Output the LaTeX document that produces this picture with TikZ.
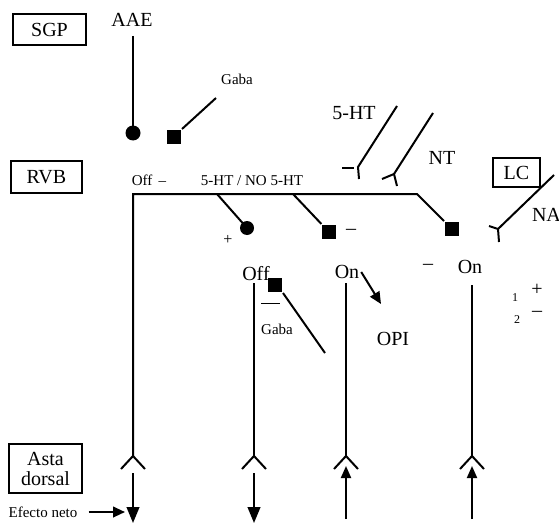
\documentclass[tikz,border=0pt]{standalone}
\usepackage{fontspec}
\setmainfont{Liberation Serif}
\usetikzlibrary{arrows.meta}
\newcommand{\bigfont}{\fontsize{15}{16}\selectfont}
\newcommand{\smallfont}{\fontsize{11.25}{13}\selectfont}
\newcommand{\tinyfont}{\fontsize{9}{10}\selectfont}
\tikzset{every picture/.style={line width=1.5pt}}

\begin{document}
\begin{tikzpicture}[x=0.75pt,y=0.75pt,yscale=-1,xscale=1,
  box/.style={draw, line width=1.2pt, inner sep=0pt, align=center, font=\bigfont},
  lbl/.style={inner sep=0.75pt, font=\bigfont},
  slbl/.style={inner sep=0.75pt, font=\smallfont},
  knob/.style={circle, fill, inner sep=0pt, minimum size=10.5pt},
  plug/.style={rectangle, fill, inner sep=0pt, minimum size=10.5pt},
  tipdown/.style={-{Triangle[length=12pt,width=9.5pt]}},
  tipup/.style={-{Triangle[length=9pt,width=7.5pt]}},
  tip/.style={-{Triangle[length=9pt,width=8pt]}}
]
\useasboundingbox (0,0) rectangle (559,524);

% Boxes
\node [box, minimum width=54.75pt, minimum height=23.25pt] (sgp) at (49.5,29.5) {SGP};
\node [box, minimum width=53.25pt, minimum height=24pt] (rvb) at (46.5,177) {RVB};
\node [box, minimum width=35.25pt, minimum height=21.75pt] (lc) at (516.5,172.5) {LC};
\node [box, minimum width=54.75pt, minimum height=36.75pt] (asta) at (45.5,468.5) {Asta\\[-1pt]dorsal};

% SGP inputs
\node [lbl] (aae) at (132,20) {AAE};
\coordinate (aaetop) at (133,36);
\node [knob, minimum size=11.25pt] (aaeknob) at (133,133) {};
\draw (aaetop) -- (aaeknob.center);
\node [plug] (gabaplug) at (174,137) {};
\coordinate (gabaend) at (216,98);
\draw (gabaplug.north east) -- (gabaend);
\node [slbl] (gabatop) at (237,79) {Gaba};

% RVB line
\node [slbl] (offrvb) at (149,180) {Off \,–};
\node [slbl] (htno) at (252,181) {5-HT / NO 5-HT};
\coordinate (f1) at (133,456);
\coordinate (rvbl) at (133,194);
\coordinate (rvbr) at (417,194);
\node [plug] (onplug) at (452,229) {};
\draw (f1) -- (rvbl) -- (rvbr) -- (onplug);
\coordinate (b1) at (217,194);
\node [knob] (plusknob) at (247,228) {};
\draw (b1) -- (plusknob.center);
\node [slbl, font=\fontsize{12}{13}\selectfont] (plus1) at (228,240) {+};
\coordinate (b2) at (293,194);
\node [plug] (minplug) at (329,232) {};
\draw (b2) -- (minplug);
\node [lbl, inner sep=0pt] (min1) at (351,232) {–};

% 5-HT and NT receptors
\node [lbl] (ht) at (354,113) {5-HT};
\coordinate (httop) at (397,106);
\coordinate (htj) at (358,167);
\coordinate (htstub) at (359,179);
\draw (httop) -- (htj) -- (htstub);
\coordinate (htdl) at (342,168);
\coordinate (htdr) at (354,168);
\draw (htdl) -- (htdr);
\node [lbl] (nt) at (442,158) {NT};
\coordinate (nttop) at (433,113);
\coordinate (ntj) at (394,174);
\draw (nttop) -- (ntj) -- (397,186);
\draw (ntj) -- (382,179);

% LC input
\node [lbl, anchor=west] (na) at (530,215) {NA};
\coordinate (natop) at (554,175);
\coordinate (naj) at (498,229);
\draw (natop) -- (naj) -- (499,242);
\draw (naj) -- (489,226);

% Lower labels
\node [lbl] (off2) at (256,274) {Off};
\node [plug] (gabaplug2) at (275,285) {};
\coordinate (gabaend2) at (325,353);
\draw (gabaplug2.south east) -- (gabaend2);
\draw [line width=0.75pt] (261,303) -- (280,303);
\node [slbl] (gabalow) at (277,329) {Gaba};
\node [lbl] (on1) at (347,272) {On};
\coordinate (opitip) at (381,304);
\draw [tip] (on1.east) -- (opitip);
\node [lbl] (opi) at (393,339) {OPI};
\node [lbl, inner sep=0pt] (min2) at (428,267) {–};
\node [lbl] (on2) at (470,267) {On};
\node [inner sep=0pt, font=\tinyfont] (one) at (515,298) {1};
\node [lbl, inner sep=0pt] (plus2) at (537,290) {+};
\node [inner sep=0pt, font=\tinyfont] (two) at (517,320) {2};
\node [lbl, inner sep=0pt] (min3) at (537,314) {–};

% Pathways to dorsal horn
\coordinate (f2) at (254,456);
\coordinate (f3) at (346,456);
\coordinate (f4) at (472,456);
\draw (254,283) -- (f2);
\draw (346,283) -- (f3);
\draw (472,285) -- (f4);
\foreach \x/\n in {133/1,254/2,346/3,472/4}
  \draw (\x-12,469) -- (f\n) -- (\x+12,469);
\foreach \x in {133,254}
  \draw [tipdown] (\x,473) -- (\x,523);
\foreach \x in {346,472}
  \draw [tipup] (\x,519) -- (\x,466);

% Net effect
\node [slbl] (efecto) at (43,512) {Efecto neto};
\coordinate (efectotip) at (125,512);
\draw [tip, shorten <=7pt] (efecto) -- (efectotip);

\end{tikzpicture}
\end{document}
